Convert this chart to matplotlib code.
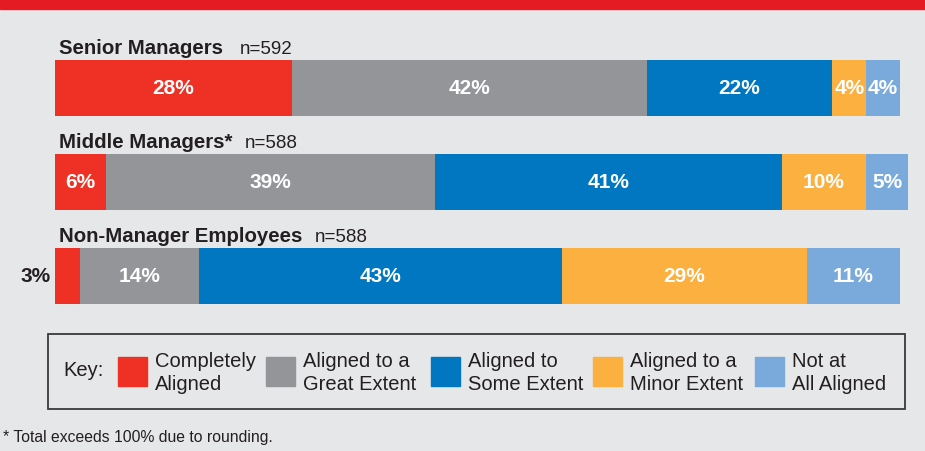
import matplotlib.pyplot as plt
from matplotlib.patches import Rectangle

plt.rcParams['font.family'] = ['Liberation Sans', 'DejaVu Sans']

# data
groups = ["Senior Managers", "Middle Managers*", "Non-Manager Employees"]
sizes = ["n=592", "n=588", "n=588"]
levels = ["Completely\nAligned", "Aligned to a\nGreat Extent", "Aligned to\nSome Extent",
          "Aligned to a\nMinor Extent", "Not at\nAll Aligned"]
completely = [28, 6, 3]
great = [42, 39, 14]
some = [22, 41, 43]
minor = [4, 10, 29]
not_at_all = [4, 5, 11]
colors = ["#ee3124", "#939598", "#0077c0", "#fbb040", "#7aaadb"]

W, H = 925, 451
bg = "#e6e7e9"
fig = plt.figure(figsize=(W / 100, H / 100), dpi=100, facecolor=bg)


def fx(x):
    return x / W


def fy(y):
    return 1 - y / H


# red band at the top
fig.patches.append(Rectangle((0, fy(9)), 1, 9 / H, transform=fig.transFigure,
                             color="#e51b24", zorder=0))

# bars axes: x 0..100 -> 55..900 px, rows centred at 88, 182, 276 px
ax = fig.add_axes([fx(55), fy(323), 845 / W, 282 / H])
ax.set_xlim(0, 100)
ax.set_ylim(2.5, -0.5)
ax.axis("off")

bar_h = 56 / 94
series = [completely, great, some, minor, not_at_all]
lefts = [0, 0, 0]
for vals, c in zip(series, colors):
    ax.barh(range(3), vals, left=lefts, height=bar_h, color=c, clip_on=False)
    for i, v in enumerate(vals):
        cx = lefts[i] + v / 2
        if v < 4:
            ax.text(-0.5, i, f"{v}%", ha="right", va="center", fontsize=15,
                    fontweight="bold", color="#231f20")
        else:
            ax.text(cx, i, f"{v}%", ha="center", va="center", fontsize=15,
                    fontweight="bold", color="white")
    lefts = [l + v for l, v in zip(lefts, vals)]

# group titles with n
for i, (g, n) in enumerate(zip(groups, sizes)):
    t = ax.text(0.5, i - bar_h / 2 - 0.06, g, ha="left", va="baseline",
                fontsize=14.7, fontweight="bold", color="#231f20")
    ax.annotate(n, xy=(1, 0), xycoords=t, xytext=(12 if i == 0 else 9, 0),
                textcoords="offset points", ha="left", va="bottom",
                fontsize=13.5, color="#231f20")

# key box
fig.patches.append(Rectangle((fx(48), fy(409)), 857 / W, 75 / H, transform=fig.transFigure,
                             fill=False, edgecolor="#3a3a3a", linewidth=1.3))
fig.text(fx(63), fy(371), "Key:", ha="left", va="center", fontsize=14.5, color="#231f20")
key_x = [118, 266, 431, 593, 755]
for kx, lab, c in zip(key_x, levels, colors):
    fig.patches.append(Rectangle((fx(kx), fy(386)), 29 / W, 29 / H,
                                 transform=fig.transFigure, color=c))
    fig.text(fx(kx + 37), fy(373), lab, ha="left", va="center", fontsize=14.5,
             color="#231f20", linespacing=1.25)

fig.text(fx(3), fy(442), "* Total exceeds 100% due to rounding.", ha="left",
         va="baseline", fontsize=11.3, color="#231f20")

fig.savefig("out.png", dpi=100, facecolor=bg)
